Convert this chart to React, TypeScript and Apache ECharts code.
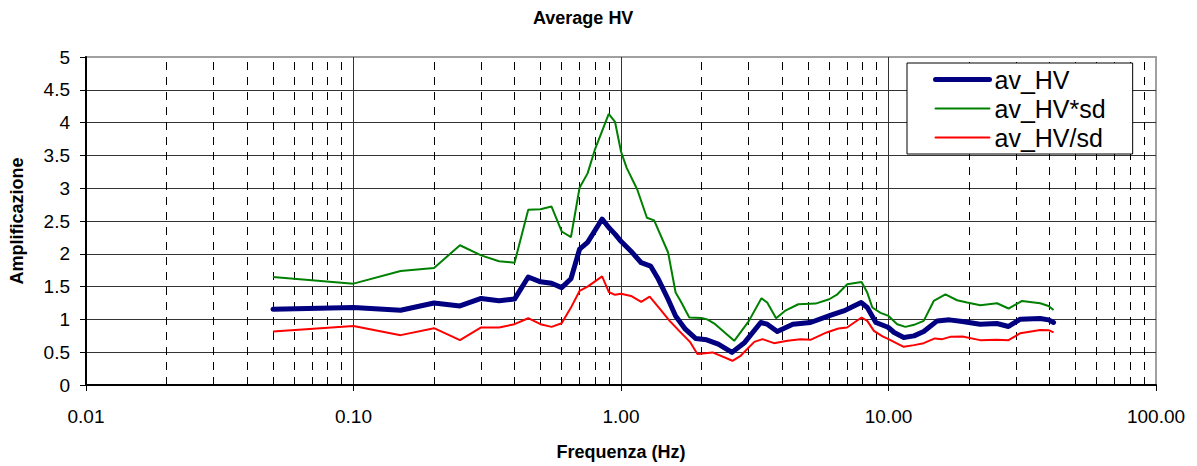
import React, { useEffect, useRef } from "react";
import * as echarts from "echarts";

// ---- Data (frequency in Hz, amplification) ----
const freqAvg = [0.05, 0.1, 0.15, 0.2, 0.25, 0.3, 0.35, 0.4, 0.45, 0.5, 0.55, 0.6, 0.65, 0.7, 0.75, 0.85, 0.9, 0.95, 1.0, 1.09, 1.19, 1.29, 1.38, 1.5, 1.6, 1.74, 1.9, 2.09, 2.31, 2.6, 2.9, 3.33, 3.52, 3.84, 4.39, 5.11, 6.09, 6.8, 7.9, 8.33, 8.97, 9.96, 10.5, 11.4, 12.46, 13.54, 15.2, 16.9, 18.9, 22.0, 25.4, 28.1, 31.1, 36.9, 39.7, 41.4];
const avgHV = [1.155, 1.18, 1.14, 1.25, 1.205, 1.32, 1.285, 1.31, 1.646, 1.573, 1.55, 1.485, 1.62, 2.07, 2.175, 2.53, 2.4, 2.3, 2.19, 2.04, 1.864, 1.813, 1.611, 1.307, 1.053, 0.851, 0.71, 0.689, 0.623, 0.497, 0.649, 0.953, 0.927, 0.816, 0.927, 0.953, 1.064, 1.129, 1.257, 1.181, 0.953, 0.88, 0.8, 0.725, 0.749, 0.816, 0.977, 0.993, 0.968, 0.927, 0.938, 0.892, 1.003, 1.014, 0.993, 0.953];

const freqUpper = [0.05, 0.1, 0.15, 0.2, 0.25, 0.3, 0.35, 0.4, 0.45, 0.5, 0.55, 0.6, 0.65, 0.7, 0.75, 0.8, 0.9, 0.95, 1.0, 1.05, 1.15, 1.25, 1.33, 1.5, 1.6, 1.67, 1.8, 2.0, 2.1, 2.25, 2.65, 3.0, 3.35, 3.52, 3.8, 4.1, 4.6, 5.34, 6.0, 6.44, 7.01, 7.93, 8.33, 8.7, 9.34, 10.0, 10.78, 11.57, 12.46, 13.54, 14.76, 16.32, 18.05, 19.67, 22.04, 25.44, 28.1, 31.55, 36.9, 39.65, 41.4];
const upperHV = [1.646, 1.545, 1.737, 1.785, 2.13, 1.976, 1.887, 1.864, 2.67, 2.68, 2.72, 2.34, 2.254, 3.007, 3.226, 3.597, 4.134, 4.01, 3.56, 3.31, 2.98, 2.55, 2.51, 2.02, 1.41, 1.28, 1.03, 1.02, 1.0, 0.927, 0.673, 0.97, 1.322, 1.257, 1.016, 1.129, 1.231, 1.241, 1.307, 1.383, 1.535, 1.57, 1.409, 1.181, 1.1, 1.053, 0.927, 0.886, 0.917, 0.977, 1.281, 1.383, 1.292, 1.257, 1.216, 1.246, 1.166, 1.281, 1.246, 1.205, 1.144];

const freqLower = [0.05, 0.1, 0.15, 0.2, 0.25, 0.3, 0.35, 0.4, 0.45, 0.5, 0.55, 0.6, 0.65, 0.7, 0.75, 0.85, 0.9, 0.95, 1.0, 1.09, 1.19, 1.28, 1.4, 1.52, 1.65, 1.81, 1.93, 2.2, 2.61, 2.8, 3.15, 3.38, 3.73, 4.19, 4.69, 5.11, 5.87, 6.5, 7.0, 7.93, 8.33, 8.82, 9.5, 10.0, 11.4, 12.46, 13.54, 14.9, 15.9, 17.0, 18.9, 22.0, 25.4, 28.1, 31.1, 36.9, 39.65, 41.4];
const lowerHV = [0.816, 0.901, 0.76, 0.866, 0.684, 0.877, 0.877, 0.927, 1.018, 0.927, 0.886, 0.942, 1.18, 1.433, 1.5, 1.655, 1.418, 1.375, 1.39, 1.357, 1.266, 1.348, 1.155, 0.977, 0.825, 0.658, 0.471, 0.497, 0.369, 0.445, 0.658, 0.699, 0.638, 0.673, 0.699, 0.689, 0.801, 0.862, 0.877, 1.029, 0.977, 0.825, 0.74, 0.699, 0.582, 0.608, 0.638, 0.71, 0.699, 0.734, 0.74, 0.684, 0.689, 0.684, 0.79, 0.84, 0.836, 0.801];

const seriesNames = ["av_HV", "av_HV*sd", "av_HV/sd"];
const seriesColors = ["#000080", "#008000", "#ff0000"];
const seriesWidths = [5, 2, 2];
const decades = [0.01, 0.1, 1, 10];
const minorSteps = [2, 3, 4, 5, 6, 7, 8, 9];

const FONT = "'Liberation Sans', Arial, sans-serif";

function pairs(xs: number[], ys: number[]) {
  return xs.map((x, i) => [x, ys[i]]);
}

export default function App() {
  const ref = useRef<HTMLDivElement>(null);

  useEffect(() => {
    document.body.style.margin = "0";
    if (!ref.current) return;
    const chart = echarts.init(ref.current, undefined, { renderer: "svg" });

    const minorLines: { xAxis: number }[] = [];
    decades.forEach((d) => minorSteps.forEach((m) => minorLines.push({ xAxis: +(d * m).toPrecision(3) })));

    const ySplitColors = Array.from({ length: 11 }, (_, i) => (i === 10 ? "#a0a0a0" : "#333"));
    const xSplitColors = ["#333", "#333", "#333", "#333", "#a0a0a0"];

    chart.setOption({
      animation: false,
      title: {
        text: "Average HV",
        left: 533,
        top: 9,
        padding: 0,
        textStyle: { fontFamily: FONT, fontSize: 18, fontWeight: "bold", color: "#000" },
      },
      legend: {
        z: 20,
        data: seriesNames.map((n, i) => ({
          name: n,
          lineStyle: { width: seriesWidths[i], color: seriesColors[i], cap: "round" },
        })),
        orient: "vertical",
        left: 907,
        top: 63,
        padding: [4, 27, 4, 26],
        itemGap: 4,
        itemWidth: 54,
        itemHeight: 14,
        itemStyle: { opacity: 0 },
        borderColor: "#000",
        borderWidth: 1,
        backgroundColor: "#fff",
        textStyle: { fontFamily: FONT, fontSize: 25, color: "#000" },
      },
      grid: {
        left: 84,
        right: 41,
        top: 57,
        bottom: 80,
        show: true,
        borderColor: "#a0a0a0",
        borderWidth: 2,
      },
      xAxis: {
        type: "log",
        logBase: 10,
        min: 0.01,
        max: 100,
        name: "Frequenza (Hz)",
        nameLocation: "middle",
        nameGap: 58,
        nameTextStyle: { fontFamily: FONT, fontSize: 18, fontWeight: "bold", color: "#000" },
        axisLine: { show: true, onZero: false, lineStyle: { color: "#000", width: 2 } },
        axisTick: { show: true, length: 6, lineStyle: { color: "#000" } },
        axisLabel: {
          margin: 22,
          fontFamily: FONT,
          fontSize: 19,
          color: "#000",
          formatter: (v: number) => v.toFixed(2),
        },
        splitLine: { show: true, lineStyle: { color: xSplitColors, width: 1 } },
      },
      yAxis: {
        type: "value",
        min: 0,
        max: 5,
        interval: 0.5,
        name: "Amplificazione",
        nameLocation: "middle",
        nameGap: 60,
        nameRotate: 90,
        nameTextStyle: { fontFamily: FONT, fontSize: 18, fontWeight: "bold", color: "#000" },
        axisLine: { show: true, lineStyle: { color: "#000", width: 2 } },
        axisTick: { show: true, length: 6, lineStyle: { color: "#000" } },
        axisLabel: { margin: 16, fontFamily: FONT, fontSize: 19, color: "#000" },
        splitLine: { show: true, lineStyle: { color: ySplitColors, width: 1 } },
      },
      series: [
        {
          name: "minorGrid",
          type: "line",
          data: [],
          z: 1,
          silent: true,
          markLine: {
            z: 1,
            silent: true,
            symbol: ["none", "none"],
            label: { show: false },
            animation: false,
            lineStyle: { color: "#000", width: 1, type: [8, 7] },
            emphasis: { disabled: true },
            data: minorLines,
          },
        },
        {
          name: seriesNames[0],
          type: "line",
          data: pairs(freqAvg, avgHV),
          symbol: "none",
          z: 4,
          lineStyle: { color: seriesColors[0], width: seriesWidths[0], join: "round", cap: "round" },
          itemStyle: { color: seriesColors[0] },
        },
        {
          name: seriesNames[1],
          type: "line",
          data: pairs(freqUpper, upperHV),
          symbol: "none",
          z: 3,
          lineStyle: { color: seriesColors[1], width: seriesWidths[1] },
          itemStyle: { color: seriesColors[1] },
        },
        {
          name: seriesNames[2],
          type: "line",
          data: pairs(freqLower, lowerHV),
          symbol: "none",
          z: 3,
          lineStyle: { color: seriesColors[2], width: seriesWidths[2] },
          itemStyle: { color: seriesColors[2] },
        },
      ],
    });

    return () => chart.dispose();
  }, []);

  return <div ref={ref} style={{ width: 1197, height: 466 }} />;
}
